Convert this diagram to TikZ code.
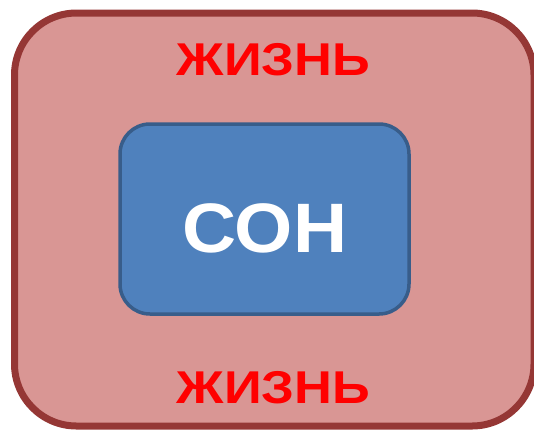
\documentclass[tikz,border=0pt]{standalone}
\usepackage{fontspec}
\setmainfont{Liberation Sans}
\usepackage{tikz}
\usepackage{xcolor}
\usetikzlibrary{shapes, positioning}
\definecolor{lifefill}{rgb}{0.851, 0.588, 0.580}
\definecolor{lifeborder}{rgb}{0.584, 0.216, 0.208}
\definecolor{sleepfill}{rgb}{0.310, 0.506, 0.741}
\definecolor{sleepborder}{rgb}{0.220, 0.365, 0.541}

\begin{document}
\begin{tikzpicture}[x=1pt, y=-1pt, every node/.style={font=\bfseries, inner sep=0pt, outer sep=0pt}]
        \useasboundingbox (0,0) rectangle (534,429);
        % outer box
        \node[draw=lifeborder, fill=lifefill, line width=7pt, rounded corners=62pt,
              minimum width=519.5pt, minimum height=413pt] (life) at (274.25,219.5) {};
        % inner box
        \node[draw=sleepborder, fill=sleepfill, line width=3.5pt, rounded corners=30pt,
              minimum width=289pt, minimum height=190pt] (sleep) at (264.5,219) {};
        \node[text=white, font=\bfseries\fontsize{70}{70}\selectfont] (son) at (265,228.5) {\scalebox{1.07}[1]{СОН}};
        \node[text=red, font=\bfseries\fontsize{46}{46}\selectfont] (lifetop) at (273.5,59.5) {\scalebox{1.14}[1]{ЖИЗНЬ}};
        \node[text=red, font=\bfseries\fontsize{46}{46}\selectfont] (lifebot) at (273.5,387.5) {\scalebox{1.14}[1]{ЖИЗНЬ}};
    \end{tikzpicture}
\end{document}
